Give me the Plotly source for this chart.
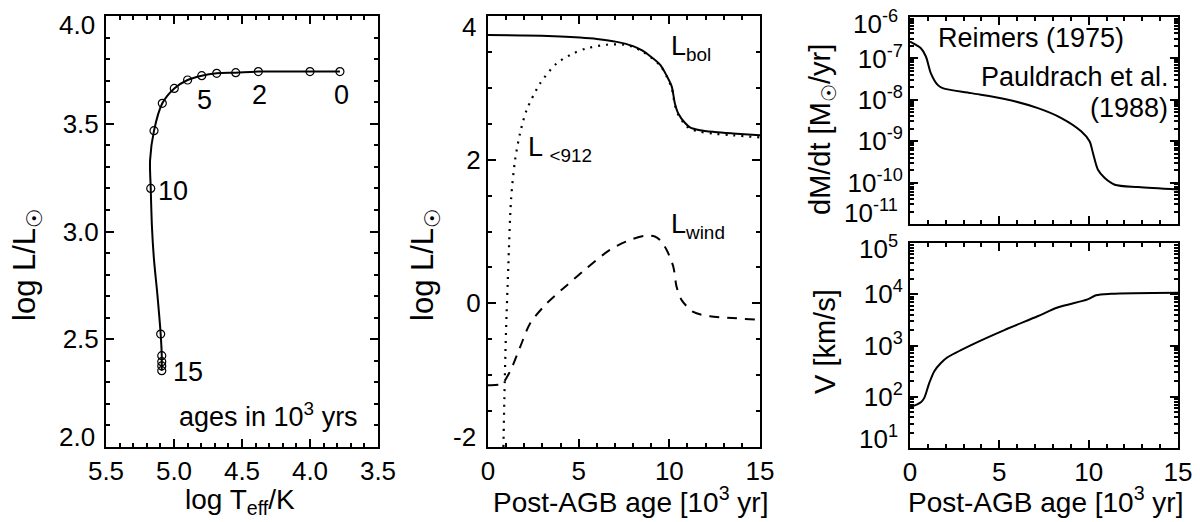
import plotly.graph_objects as go

# ---------------- data ----------------
# Panel 1: HR track (log Teff, log L) with circles every 1e3 yr
circle_ages = [0, 1, 2, 3, 4, 5, 6, 7, 8, 9, 10, 11, 12, 13, 14, 15]
circle_logT = [3.78, 4.00, 4.38, 4.546, 4.686, 4.796, 4.90, 4.998, 5.086, 5.147,
               5.171, 5.098, 5.09, 5.09, 5.09, 5.09]
circle_logL = [3.742, 3.742, 3.742, 3.737, 3.734, 3.723, 3.703, 3.664, 3.595, 3.468,
               3.20, 2.524, 2.424, 2.396, 2.376, 2.354]
track_logT = [3.78, 4.00, 4.38, 4.546, 4.686, 4.796, 4.90, 4.998, 5.086, 5.147, 5.176,
              5.171, 5.162, 5.147, 5.123, 5.098, 5.09, 5.09, 5.09, 5.09]
track_logL = [3.742, 3.742, 3.742, 3.737, 3.734, 3.723, 3.703, 3.664, 3.595, 3.468, 3.33,
              3.20, 3.02, 2.868, 2.713, 2.524, 2.424, 2.396, 2.376, 2.354]
age_labels = ["0", "2", "5", "10", "15"]
age_label_x = [3.767, 4.37, 4.776, 5.007, 4.90]
age_label_y = [3.633, 3.633, 3.61, 3.19, 2.35]

# Panel 2: luminosities vs post-AGB age
age_bol = [0, 2, 4, 5.07, 6, 7.1, 8.0, 8.5, 9.0, 9.5, 9.85, 10.13, 10.31, 10.5,
           10.87, 11.14, 11.69, 12.5, 13.5, 15]
L_bol = [3.735, 3.73, 3.715, 3.70, 3.68, 3.64, 3.58, 3.52, 3.43, 3.32, 3.17, 3.02,
         2.78, 2.64, 2.51, 2.45, 2.41, 2.385, 2.365, 2.34]
age_912 = [0.85, 0.90, 0.99, 1.12, 1.27, 1.49, 1.77, 2.13, 2.87, 3.79, 4.71, 5.44,
           6.55, 7.5, 8.0, 8.5, 9.0, 9.5, 9.85, 10.13, 10.31, 10.5, 10.87, 11.14,
           11.69, 12.5, 13.5, 15]
L_912 = [-2.0, -1.35, -0.42, 0.51, 1.44, 1.99, 2.37, 2.69, 3.06, 3.34, 3.48, 3.55,
         3.60, 3.60, 3.57, 3.51, 3.42, 3.31, 3.16, 3.00, 2.76, 2.62, 2.49, 2.43,
         2.39, 2.36, 2.34, 2.31]
age_wind = [0, 0.76, 1.21, 1.77, 2.32, 3.24, 4.34, 5.44, 6.64, 7.6, 8.66, 9.2, 9.49,
            9.86, 10.22, 10.4, 10.68, 11.32, 12.24, 13.2, 15]
L_wind = [-1.14, -1.12, -0.95, -0.61, -0.28, 0.0, 0.25, 0.49, 0.73, 0.86, 0.94, 0.93,
          0.88, 0.74, 0.51, 0.23, 0.045, -0.12, -0.18, -0.20, -0.23]

# Panel 3: mass-loss rate [Msun/yr]
age_mdot = [0, 0.61, 0.89, 1.17, 1.55, 1.83, 3.42, 5.3, 7.16, 8.47, 9.58, 10.05,
            10.24, 10.52, 10.9, 11.46, 12.77, 15]
mdot = [2.54e-7, 1.76e-7, 1.11e-7, 4.37e-8, 2.29e-8, 1.91e-8, 1.45e-8, 1.05e-8,
        6.3e-9, 3.63e-9, 1.74e-9, 1.0e-9, 5.2e-10, 2.04e-10, 1.29e-10, 8.9e-11,
        7.8e-11, 6.8e-11]

# Panel 4: wind velocity [km/s]
age_v = [0, 0.61, 0.8, 1.08, 1.36, 1.73, 2.1, 3.42, 5.28, 7.14, 8.26, 9.94, 10.41,
         11.25, 15]
vwind = [62, 78, 95, 186, 316, 457, 589, 1020, 2000, 3720, 5500, 7940, 9550, 10200,
         10700]

# tick values / labels (edge labels drawn separately, nudged inward as in the original)
teff_ticks = [5.5, 5.0, 4.5, 4.0, 3.5]
teff_ticktext = ["5.5", "5.0", "4.5", "4.0", "3.5"]
hr_lum_ticks = [2.0, 2.5, 3.0, 3.5, 4.0]
hr_lum_ticktext = ["", "2.5", "3.0", "3.5", ""]
lum_ticks = [-2, 0, 2, 4]
lum_ticktext = ["", "0", "2", ""]
mdot_ticks = [1e-11, 1e-10, 1e-9, 1e-8, 1e-7, 1e-6]
mdot_ticktext = ["", "10<sup>-10</sup>", "10<sup>-9</sup>",
                 "10<sup>-8</sup>", "10<sup>-7</sup>", ""]
v_ticks = [1e1, 1e2, 1e3, 1e4, 1e5]
v_ticktext = ["", "10<sup>2</sup>", "10<sup>3</sup>", "10<sup>4</sup>", ""]
edge_labels = ["4.0", "2.0", "4", "-2", "10<sup>-6</sup>", "10<sup>-11</sup>",
               "10<sup>5</sup>", "10<sup>1</sup>"]

# ---------------- figure ----------------
W, H = 1200, 522
FONT = "Liberation Sans, DejaVu Sans, Arial, Helvetica, sans-serif"
FS_TICK = 26
FS_TXT = 27
FS_XT = 28
FS_YT = 31

def px_x(px):
    return px / W

def px_y(py):
    return 1 - py / H

def log_minor(lo, hi):
    vals = []
    for e in range(lo, hi):
        for m in range(2, 10):
            vals.append(m * 10.0 ** e)
    return vals

SUN = '<span style="font-family:DejaVu Sans">☉</span>'

fig = go.Figure()
line_kw = dict(color="black", width=2, shape="spline", smoothing=0.8)

fig.add_trace(go.Scatter(x=track_logT, y=track_logL, mode="lines", line=line_kw,
                         xaxis="x", yaxis="y", showlegend=False))
fig.add_trace(go.Scatter(x=circle_logT, y=circle_logL, mode="markers",
                         marker=dict(symbol="circle-open", size=8, color="black",
                                     line=dict(width=1.2, color="black")),
                         xaxis="x", yaxis="y", showlegend=False))

fig.add_trace(go.Scatter(x=age_bol, y=L_bol, mode="lines", line=line_kw,
                         xaxis="x2", yaxis="y2", showlegend=False))
fig.add_trace(go.Scatter(x=age_912, y=L_912, mode="lines",
                         line=dict(color="black", width=2.2, shape="spline",
                                   smoothing=0.8, dash="2px,6px"),
                         xaxis="x2", yaxis="y2", showlegend=False))
fig.add_trace(go.Scatter(x=age_wind, y=L_wind, mode="lines",
                         line=dict(color="black", width=2, shape="spline",
                                   smoothing=0.8, dash="10px,8px"),
                         xaxis="x2", yaxis="y2", showlegend=False))

fig.add_trace(go.Scatter(x=age_mdot, y=mdot, mode="lines", line=line_kw,
                         xaxis="x3", yaxis="y3", showlegend=False))
fig.add_trace(go.Scatter(x=age_v, y=vwind, mode="lines", line=line_kw,
                         xaxis="x4", yaxis="y4", showlegend=False))

common = dict(showline=True, linewidth=2, linecolor="black", mirror="ticks",
              ticks="inside", ticklen=8, tickwidth=2, tickcolor="black",
              showgrid=False, zeroline=False, automargin=False,
              tickfont=dict(family=FONT, size=FS_TICK, color="black"))

def minor_lin(d):
    return dict(dtick=d, ticks="inside", ticklen=4, tickwidth=1.5,
                tickcolor="black", showgrid=False)

def minor_log(lo, hi):
    return dict(tickvals=log_minor(lo, hi), ticks="inside", ticklen=4,
                tickwidth=1.5, tickcolor="black", showgrid=False)

dom_y_main = [px_y(447), px_y(16)]
fig.update_layout(
    width=W, height=H, margin=dict(l=0, r=0, t=0, b=0, pad=0, autoexpand=False),
    autosize=False,
    paper_bgcolor="white", plot_bgcolor="white",
    font=dict(family=FONT, size=FS_TICK, color="black"),
    xaxis=dict(domain=[px_x(106), px_x(378)], range=[5.5, 3.5],
               tickvals=teff_ticks, ticktext=teff_ticktext, anchor="y",
               minor=minor_lin(0.1), **common),
    yaxis=dict(domain=dom_y_main, range=[2.0, 4.0], tickvals=hr_lum_ticks,
               ticktext=hr_lum_ticktext, anchor="x", minor=minor_lin(0.1), **common),
    xaxis2=dict(domain=[px_x(488), px_x(760)], range=[0, 15], dtick=5, anchor="y2",
                minor=minor_lin(1), **common),
    yaxis2=dict(domain=dom_y_main, range=[-2, 4], tickvals=lum_ticks,
                ticktext=lum_ticktext, anchor="x2",
                minor=minor_lin(0.5), **common),
    xaxis3=dict(domain=[px_x(910), px_x(1178)], range=[0, 15], dtick=5, anchor="y3",
                showticklabels=False, minor=minor_lin(1), **common),
    yaxis3=dict(domain=[px_y(224), px_y(17)], type="log", range=[-11, -6],
                tickvals=mdot_ticks, ticktext=mdot_ticktext, anchor="x3",
                minor=minor_log(-11, -6), **common),
    xaxis4=dict(domain=[px_x(910), px_x(1178)], range=[0, 15], dtick=5, anchor="y4",
                minor=minor_lin(1), **common),
    yaxis4=dict(domain=[px_y(448), px_y(243)], type="log", range=[1, 5],
                tickvals=v_ticks, ticktext=v_ticktext, anchor="x4",
                minor=minor_log(1, 5), **common),
)

ann = []
txt_font = dict(family=FONT, size=FS_TXT, color="black")
for t, x, y in zip(age_labels, age_label_x, age_label_y):
    ann.append(dict(text=t, x=x, y=y, xref="x", yref="y", showarrow=False,
                    font=txt_font, xanchor="center", yanchor="middle"))
ann.append(dict(text="ages in 10<sup>3</sup> yrs", x=3.63, y=2.15, xref="x", yref="y",
                showarrow=False, font=txt_font, xanchor="right", yanchor="middle"))
ann.append(dict(text="L<sub>bol</sub>", x=10.0, y=3.55, xref="x2", yref="y2",
                showarrow=False, font=txt_font, xanchor="left", yanchor="middle"))
ann.append(dict(text="L <sub>&lt;912</sub>", x=2.1, y=2.15, xref="x2", yref="y2",
                showarrow=False, font=txt_font, xanchor="left", yanchor="middle"))
ann.append(dict(text="L<sub>wind</sub>", x=10.0, y=1.07, xref="x2", yref="y2",
                showarrow=False, font=txt_font, xanchor="left", yanchor="middle"))
ann.append(dict(text="Reimers (1975)", x=6.8, y=-6.51, xref="x3", yref="y3",
                showarrow=False, font=txt_font, xanchor="center", yanchor="middle"))
ann.append(dict(text="Pauldrach et al.", x=14.6, y=-7.44, xref="x3", yref="y3",
                showarrow=False, font=txt_font, xanchor="right", yanchor="middle"))
ann.append(dict(text="(1988)", x=14.55, y=-8.2, xref="x3", yref="y3",
                showarrow=False, font=txt_font, xanchor="right", yanchor="middle"))

# edge tick labels nudged inside the axis extent
edge_right_px = [97, 97, 478, 478, 900, 900, 900, 900]
edge_center_py = [25, 437, 27, 437, 22, 211, 247, 437]
tick_font = dict(family=FONT, size=FS_TICK, color="black")
for t, rx, cy in zip(edge_labels, edge_right_px, edge_center_py):
    ann.append(dict(text=t, x=px_x(rx), y=px_y(cy), xref="paper", yref="paper",
                    showarrow=False, font=tick_font, xanchor="right",
                    yanchor="middle"))

# axis titles
def title(text, cx, cy, size, angle=0):
    return dict(text=text, x=px_x(cx), y=px_y(cy), xref="paper", yref="paper",
                showarrow=False, font=dict(family=FONT, size=size, color="black"),
                xanchor="center", yanchor="middle", textangle=angle)

ann.append(title("log L/L<sub>" + SUN + "</sub>", 27, 265, FS_YT, -90))
ann.append(title("log L/L<sub>" + SUN + "</sub>", 425, 265, FS_YT, -90))
ann.append(title("dM/dt [M<sub>" + SUN + "</sub>/yr]", 822, 130, 29, -90))
ann.append(title("V [km/s]", 825, 342, 29, -90))
ann.append(title("log T<sub>eff</sub>/K", 240, 501, FS_XT))
ann.append(title("Post-AGB age [10<sup>3</sup> yr]", 630, 500, FS_XT))
ann.append(title("Post-AGB age [10<sup>3</sup> yr]", 1045, 500, FS_XT))

fig.update_layout(annotations=ann)
fig.write_html("out.html", config={"displayModeBar": False},
               post_script="document.body.style.margin='0';")
